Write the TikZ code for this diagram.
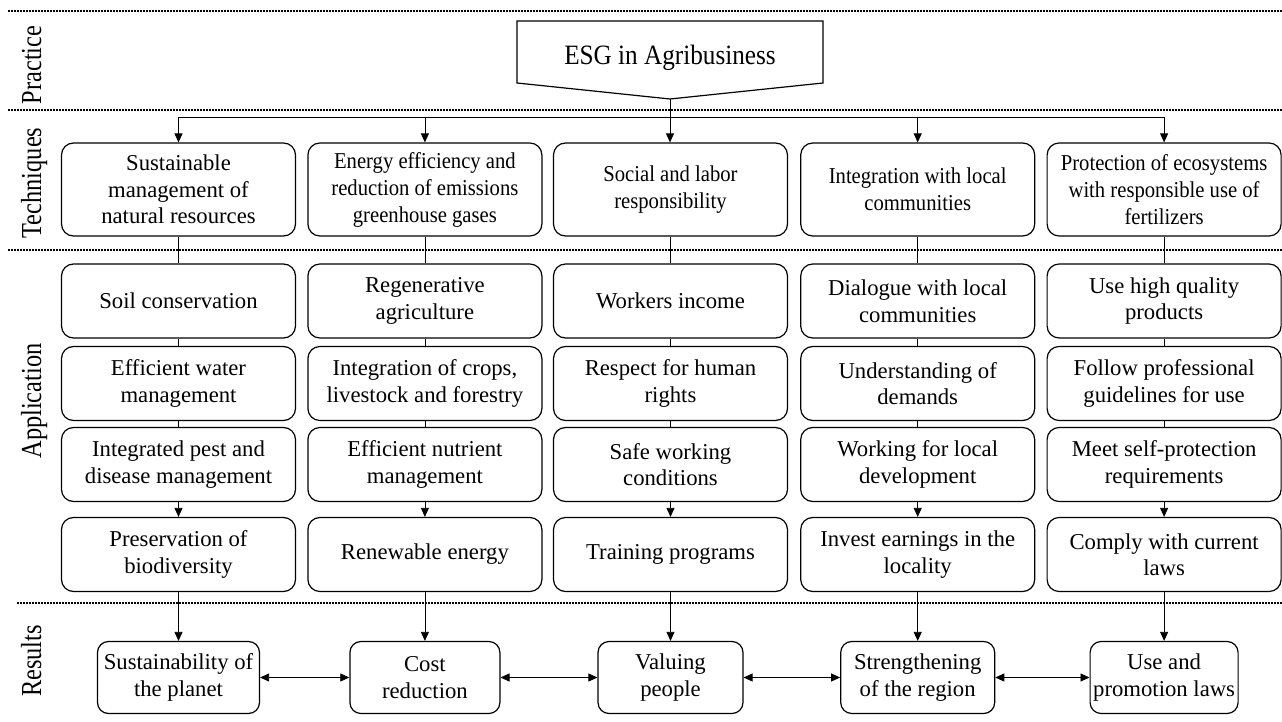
\documentclass[tikz,border=0pt]{standalone}
\usepackage{fontspec}
\setmainfont{Liberation Serif}
\newfontfamily\condfont[FakeStretch=0.91]{Liberation Serif}
\newfontfamily\labfont[FakeStretch=0.84]{Liberation Serif}
\newfontfamily\esgfont[FakeStretch=0.9]{Liberation Serif}
\usetikzlibrary{arrows.meta,calc}
\begin{document}
\begin{tikzpicture}[x=1pt,y=-1pt,
  box/.style={draw, line width=1.2pt, rounded corners=12pt, minimum width=234pt, inner sep=0pt, align=center, font=\fontsize{22.7}{26.5}\selectfont},
  techbox/.style={box, minimum height=93pt},
  appbox/.style={box, minimum height=74pt},
  resbox/.style={box, rounded corners=11pt, minimum height=72pt},
  techc/.style={font=\condfont\fontsize{22.7}{27}\selectfont},
  conn/.style={line width=0.8pt},
  arr/.style={conn, -{Triangle[length=9pt,width=8pt]}},
  arrb/.style={conn, {Triangle[length=9pt,width=8pt]}-{Triangle[length=9pt,width=8pt]}},
  sep/.style={line width=1.4pt, dash pattern=on 1.6pt off 1.4pt},
  lab/.style={rotate=90, anchor=base, inner sep=0pt, font=\labfont\fontsize{29}{30}\selectfont}
]
\useasboundingbox (0,0) rectangle (1282,722);

% separators
\draw[sep] (8,11) -- (1282,11);
\draw[sep] (8,110) -- (1282,110);
\draw[sep] (8,250) -- (1282,250);
\draw[sep] (17,603) -- (1282,603);

% side labels
\node[lab] (lp) at (41,65) {Practice};
\node[lab] (lt) at (41,183) {Techniques};
\node[lab] (la) at (41,401) {Application};
\node[lab] (lr) at (41,661) {Results};

% ESG block
\node[inner sep=0pt, font=\esgfont\fontsize{28}{30}\selectfont] (esg) at (670,57.5) {ESG in Agribusiness};
\coordinate (esgtip) at ($(esg)+(0,41.5)$);
\draw[line width=1.2pt] ($(esg)+(-153,-36.5)$) -- ($(esg)+(153,-36.5)$) -- ($(esg)+(153,25.5)$) -- (esgtip) -- ($(esg)+(-153,25.5)$) -- cycle;

% techniques
\node[techbox] (t1) at (178.5,189.5) {Sustainable\\management of\\natural resources};
\node[techbox,techc] (t2) at (424.9,189.5) {Energy efficiency and\\reduction of emissions\\greenhouse gases};
\node[techbox,techc] (t3) at (670.5,189.5) {Social and labor\\responsibility};
\node[techbox,techc] (t4) at (917.7,189.5) {Integration with local\\communities};
\node[techbox,techc] (t5) at (1164.1,189.5) {Protection of ecosystems\\with responsible use of\\fertilizers};

% application column 1
\node[appbox] (c1a) at (178.5,301) {Soil conservation};
\node[appbox] (c1b) at (178.5,383.5) {Efficient water\\management};
\node[appbox] (c1c) at (178.5,464.5) {Integrated pest and\\disease management};
\node[appbox] (c1d) at (178.5,554.5) {Preservation of\\biodiversity};
% column 2
\node[appbox] (c2a) at (424.9,301) {Regenerative\\agriculture};
\node[appbox] (c2b) at (424.9,383.5) {Integration of crops,\\livestock and forestry};
\node[appbox] (c2c) at (424.9,464.5) {Efficient nutrient\\management};
\node[appbox] (c2d) at (424.9,554.5) {Renewable energy};
% column 3
\node[appbox] (c3a) at (670.5,301) {Workers income};
\node[appbox] (c3b) at (670.5,383.5) {Respect for human\\rights};
\node[appbox] (c3c) at (670.5,464.5) {Safe working\\conditions};
\node[appbox] (c3d) at (670.5,554.5) {Training programs};
% column 4
\node[appbox] (c4a) at (917.7,301) {Dialogue with local\\communities};
\node[appbox] (c4b) at (917.7,383.5) {Understanding of\\demands};
\node[appbox] (c4c) at (917.7,464.5) {Working for local\\development};
\node[appbox] (c4d) at (917.7,554.5) {Invest earnings in the\\locality};
% column 5
\node[appbox] (c5a) at (1164.1,301) {Use high quality\\products};
\node[appbox] (c5b) at (1164.1,383.5) {Follow professional\\guidelines for use};
\node[appbox] (c5c) at (1164.1,464.5) {Meet self-protection\\requirements};
\node[appbox] (c5d) at (1164.1,554.5) {Comply with current\\laws};

% results
\node[resbox, minimum width=162pt] (r1) at (178.5,677.5) {Sustainability of\\the planet};
\node[resbox, minimum width=150pt] (r2) at (424.9,677.5) {Cost\\reduction};
\node[resbox, minimum width=145pt] (r3) at (670.5,677.5) {Valuing\\people};
\node[resbox, minimum width=154pt] (r4) at (917.7,677.5) {Strengthening\\of the region};
\node[resbox, minimum width=148pt] (r5) at (1164.1,677.5) {Use and\\promotion laws};

% top distribution
\coordinate (bus) at (670.5,117);
\draw[conn] (t1.north |- bus) -- (t5.north |- bus);
\draw[arr] (esgtip) -- (esgtip |- t3.north);
\foreach \t in {t1,t2,t4,t5} {\draw[arr] (\t.north |- bus) -- (\t.north);}

% column connectors
\foreach \c in {1,...,5} {
  \draw[conn] (t\c) -- (c\c a);
  \draw[conn] (c\c a) -- (c\c b);
  \draw[conn] (c\c b) -- (c\c c);
  \draw[arr] (c\c c) -- (c\c d);
  \draw[arr] (c\c d) -- (r\c);
}

% result links
\draw[arrb] (r1) -- (r2);
\draw[arrb] (r2) -- (r3);
\draw[arrb] (r3) -- (r4);
\draw[arrb] (r4) -- (r5);
\end{tikzpicture}
\end{document}
